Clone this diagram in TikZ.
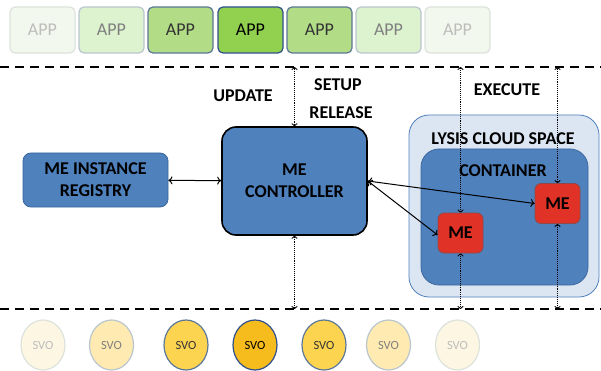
\documentclass[tikz,border=0pt]{standalone}
\usepackage{fontspec}
\setmainfont{Carlito}
\usepackage{tikz}
\usetikzlibrary{shapes.geometric,arrows.meta}
\definecolor{appfaintfill}{HTML}{F3F8EE}
\definecolor{applightfill}{HTML}{DDF2CF}
\definecolor{appmidfill}{HTML}{B3DC86}
\definecolor{appdarkfill}{HTML}{92D050}
\definecolor{svofaintfill}{HTML}{FDF6E3}
\definecolor{svolightfill}{HTML}{FFEBB2}
\definecolor{svomidfill}{HTML}{FDD44F}
\definecolor{svodarkfill}{HTML}{F6BC1E}
\definecolor{faintline}{HTML}{DCE3DC}
\definecolor{lightline}{HTML}{B9C6CE}
\definecolor{midline}{HTML}{5C7898}
\definecolor{darkline}{HTML}{2F4F8C}
\definecolor{faintgray}{HTML}{BDBDBD}
\definecolor{lightgray}{HTML}{7F7F7F}
\definecolor{meblue}{HTML}{4F81BD}
\definecolor{meblueline}{HTML}{3A67A0}
\definecolor{cloudfill}{HTML}{DCE6F2}
\definecolor{mered}{HTML}{E03226}
\definecolor{meredline}{HTML}{8C4A4A}

\tikzset{
  appbox/.style={rounded corners=5pt,minimum width=65pt,minimum height=46pt,inner sep=0pt,font=\fontsize{18}{21}\selectfont,line width=1.2pt},
  appfaint/.style={appbox,draw=faintline,fill=appfaintfill,text=faintgray},
  applight/.style={appbox,draw=lightline,fill=applightfill,text=lightgray},
  appmid/.style={appbox,draw=midline,fill=appmidfill,text=black!80},
  appdark/.style={appbox,draw=darkline,fill=appdarkfill,text=black},
  svonode/.style={ellipse,minimum width=44pt,minimum height=50pt,inner sep=0pt,font=\fontsize{12.5}{15}\selectfont,line width=1.2pt},
  svofaint/.style={svonode,draw=faintline,fill=svofaintfill,text=faintgray},
  svolight/.style={svonode,draw=lightline,fill=svolightfill,text=lightgray},
  svomid/.style={svonode,draw=midline,fill=svomidfill,text=black!80},
  svodark/.style={svonode,draw=darkline,fill=svodarkfill,text=black},
  bluebox/.style={fill=meblue,align=center,inner sep=0pt,font=\fontsize{18}{22}\selectfont\bfseries},
  mebox/.style={draw=meredline,fill=mered,rounded corners=6pt,minimum width=45pt,minimum height=40pt,inner sep=0pt,font=\fontsize{18}{20}\selectfont\bfseries,line width=0.8pt},
  lbl/.style={font=\fontsize{18}{20}\selectfont\bfseries},
  boundary/.style={line width=2pt,dash pattern=on 9pt off 6pt},
  signal/.style={{To[length=3pt,width=6pt]}-{To[length=3pt,width=6pt]},densely dotted,line width=0.9pt},
  link/.style={{To[length=4pt,width=8pt]}-{To[length=4pt,width=8pt]},line width=1pt}
}

\begin{document}
\begin{tikzpicture}[x=1pt,y=-1pt]
\useasboundingbox (0,0) rectangle (601,371);
% applications
\node[appfaint] (app1) at (42.5,30) {APP};
\node[applight] (app2) at (111.5,30) {APP};
\node[appmid] (app3) at (180.5,30) {APP};
\node[appdark] (app4) at (250.5,30) {APP};
\node[appmid] (app5) at (319.5,30) {APP};
\node[applight] (app6) at (388.5,30) {APP};
\node[appfaint] (app7) at (457.5,30) {APP};
% layer boundaries
\draw[boundary] (0,67) -- (601,67);
\draw[boundary] (0,309) -- (601,309);
% services
\node[svofaint] (svo1) at (43,345) {SVO};
\node[svolight] (svo2) at (111.5,345) {SVO};
\node[svomid] (svo3) at (186,345) {SVO};
\node[svodark] (svo4) at (255,345) {SVO};
\node[svomid] (svo5) at (324,345) {SVO};
\node[svolight] (svo6) at (388.5,345) {SVO};
\node[svofaint] (svo7) at (457.5,345) {SVO};
% middle layer
\node[bluebox,draw=meblueline,line width=0.8pt,rounded corners=8pt,minimum width=145pt,minimum height=54pt] (registry) at (95.5,180) {ME INSTANCE\\REGISTRY};
\node[bluebox,draw=black,line width=1.6pt,rounded corners=14pt,minimum width=145pt,minimum height=108pt] (ctrl) at (294.5,181) {ME\\CONTROLLER};
\node[draw=meblue,fill=cloudfill,line width=0.8pt,rounded corners=20pt,minimum width=190pt,minimum height=182pt] (cloud) at (504,206) {};
\node[draw=meblueline,fill=meblue,line width=0.8pt,rounded corners=18pt,minimum width=167pt,minimum height=136pt] (container) at (504.5,217) {};
\node[lbl] (cloudlbl) at (503,139) {LYSIS CLOUD SPACE};
\node[lbl] (containerlbl) at (503,171) {CONTAINER};
\node[mebox] (me1) at (460.5,233) {ME};
\node[mebox] (me2) at (557.5,203.5) {ME};
\node[lbl] (update) at (243,96) {UPDATE};
\node[lbl] (setup) at (338,85) {SETUP};
\node[lbl] (release) at (341,113) {RELEASE};
\node[lbl] (execute) at (507,90) {EXECUTE};
\coordinate (ctrlport) at (ctrl.east);
\draw[link] (registry) -- (ctrl);
\draw[link] (ctrlport) -- (me2.west);
\draw[link] (ctrlport) -- ([yshift=-2pt]me1.west);
\draw[signal] (ctrl.north) -- (ctrl.north |- 0,67);
\draw[signal] (ctrl.south) -- (ctrl.south |- 0,309);
\draw[signal] (me1.north) -- (me1.north |- 0,67);
\draw[signal] (me1.south) -- (me1.south |- 0,309);
\draw[signal] (me2.north) -- (me2.north |- 0,67);
\draw[signal] (me2.south) -- (me2.south |- 0,309);
\end{tikzpicture}
\end{document}
